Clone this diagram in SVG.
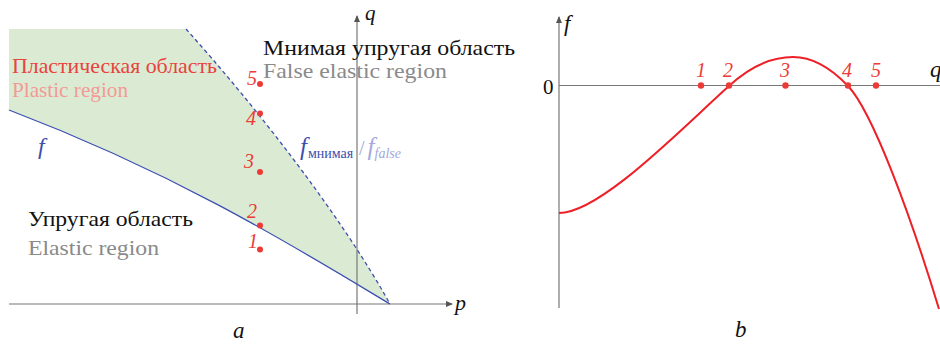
<svg xmlns="http://www.w3.org/2000/svg" width="940" height="344" viewBox="0 0 940 344">
<defs>
<marker id="arr" markerWidth="8" markerHeight="8" refX="6" refY="3" orient="auto" markerUnits="userSpaceOnUse">
<path d="M0,0 L7,3 L0,6 Z" fill="#555"/>
</marker>
<style>
.ax{stroke:#777;stroke-width:1.2;fill:none}
text{font-family:"Times New Roman",Tinos,"Liberation Serif","DejaVu Serif",serif}
.it{font-style:italic}
.num{font-style:italic;font-size:20px;fill:#ec3b36}
.dot{fill:#ec3b36}
.lbl{font-size:21px}
</style>
</defs>
<rect width="940" height="344" fill="#fff"/>
<g id="panel-a">
<path id="plastic-area" d="M9,29 L186,29 C256,107 340,214 390,304 C300,250 180,175 9,110 Z" fill="#dbebd3"/>
<g id="axes-a">
<line class="ax" x1="9" y1="304" x2="452" y2="304" marker-end="url(#arr)"/>
<line class="ax" x1="357" y1="314" x2="357" y2="16" marker-end="url(#arr)"/>
<text class="it" x="455" y="310" font-size="22" fill="#111">p</text>
<text class="it" x="365" y="20" font-size="21" fill="#111">q</text>
</g>
<path id="f-curve" d="M9,110 C180,175 300,250 390,304" fill="none" stroke="#3c4fae" stroke-width="1.3"/>
<path id="f-false-curve" d="M186,29 C256,107 340,214 390,304" fill="none" stroke="#3c4fae" stroke-width="1.3" stroke-dasharray="4 3"/>
<g id="labels-a">
<text class="lbl" x="12" y="73" fill="#e8433d" textLength="205" lengthAdjust="spacingAndGlyphs">Пластическая область</text>
<text class="lbl" x="12" y="97" fill="#f29a95" textLength="116" lengthAdjust="spacingAndGlyphs">Plastic region</text>
<text class="lbl" x="263" y="55" fill="#111" textLength="252" lengthAdjust="spacingAndGlyphs">Мнимая упругая область</text>
<text class="lbl" x="263" y="78" fill="#8a8a8a" textLength="184" lengthAdjust="spacingAndGlyphs">False elastic region</text>
<text class="lbl" x="28" y="226" fill="#111" textLength="165" lengthAdjust="spacingAndGlyphs">Упругая область</text>
<text class="lbl" x="28" y="255" fill="#8a8a8a" textLength="131" lengthAdjust="spacingAndGlyphs">Elastic region</text>
<text class="it" x="38" y="154" font-size="24" fill="#3c4fae">f</text>
<text x="300" y="155" fill="#3c4fae"><tspan class="it" font-size="25">f</tspan><tspan font-size="14" dy="3" dx="1">мнимая</tspan></text>
<text x="359" y="155" fill="#a3a9e0"><tspan font-size="20">/</tspan><tspan class="it" font-size="25" dx="3">f</tspan><tspan class="it" font-size="14" dy="3" dx="0">false</tspan></text>
<text class="it" x="233" y="338" font-size="23" fill="#111">a</text>
</g>
<g id="points-a">
<circle class="dot" cx="260" cy="84" r="3"/>
<circle class="dot" cx="260" cy="113.5" r="3"/>
<circle class="dot" cx="260" cy="172" r="3"/>
<circle class="dot" cx="260" cy="225.5" r="3"/>
<circle class="dot" cx="260" cy="249.5" r="3"/>
<text class="num" x="247" y="85">5</text>
<text class="num" x="246" y="125">4</text>
<text class="num" x="244" y="168">3</text>
<text class="num" x="247" y="218">2</text>
<text class="num" x="248" y="248">1</text>
</g>
</g>
<g id="panel-b">
<g id="axes-b">
<line class="ax" x1="559" y1="308" x2="559" y2="17" marker-end="url(#arr)"/>
<line class="ax" x1="559" y1="85.5" x2="940" y2="85.5"/>
<text class="it" x="564" y="31" font-size="23" fill="#111">f</text>
<text x="543" y="94" font-size="21" fill="#111">0</text>
<text class="it" x="930" y="77" font-size="23" fill="#111">q</text>
<text class="it" x="735" y="337" font-size="23" fill="#111">b</text>
</g>
<path id="f-of-q" d="M559,213 C600,213 680,130 729,86 C750,66.5 772,57 793,57 C812,57 830,67 848,86 C873,112 912,220 939,309" fill="none" stroke="#ee2027" stroke-width="2"/>
<g id="points-b">
<circle class="dot" cx="701" cy="85.5" r="3.2"/>
<circle class="dot" cx="729" cy="85.5" r="3.2"/>
<circle class="dot" cx="785.5" cy="85.5" r="3.2"/>
<circle class="dot" cx="848" cy="85.5" r="3.2"/>
<circle class="dot" cx="876" cy="85.5" r="3.2"/>
<text class="num" x="696" y="77">1</text>
<text class="num" x="723" y="77">2</text>
<text class="num" x="780" y="77">3</text>
<text class="num" x="842" y="77">4</text>
<text class="num" x="871" y="77">5</text>
</g>
</g>
</svg>
